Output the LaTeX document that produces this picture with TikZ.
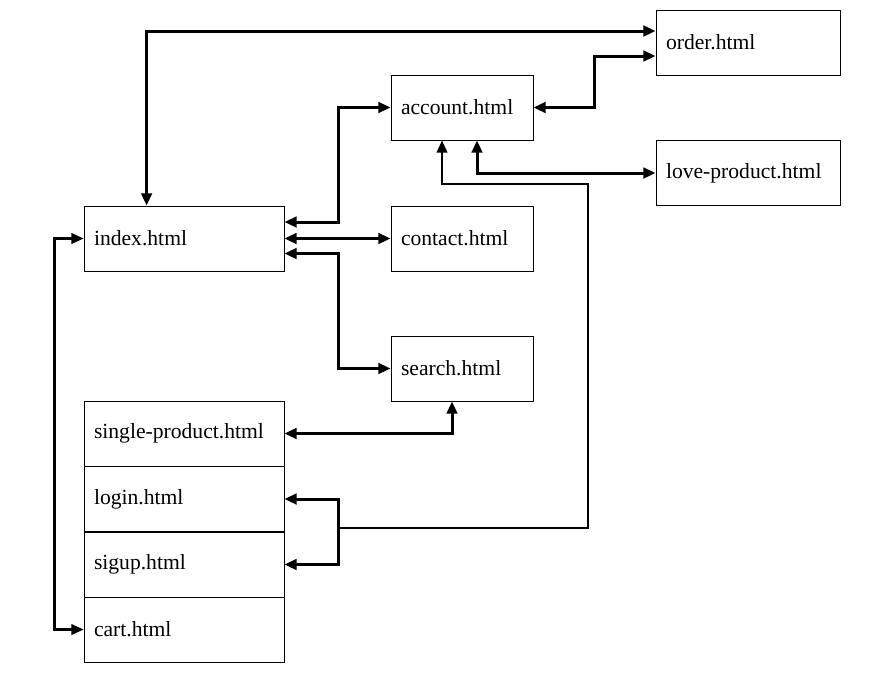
\documentclass[tikz,border=0pt]{standalone}
\usepackage{fontspec}
\setmainfont{Liberation Serif}
\usetikzlibrary{arrows.meta}

\begin{document}
\begin{tikzpicture}[
	>={Triangle[length=7pt, width=6pt]},
	htmlbox/.style={draw, rectangle, line width=0.45pt, minimum height=1.3cm, inner xsep=0.2cm, align=left, font=\fontsize{12.3}{14}\selectfont},
	widebox/.style={htmlbox, text width=3.6cm},
	midbox/.style={htmlbox, text width=3.28cm},
	smallbox/.style={htmlbox, text width=2.44cm},
	link/.style={line width=1.7pt, <->},
	thinlink/.style={line width=1.3pt}
	]
			\useasboundingbox (0,0) rectangle (17.82,-13.5);
		
			\node[midbox] (order) at (14.96,-0.85) {order.html};
			\node[smallbox] (account) at (9.24,-2.15) {account.html};
			\node[midbox] (love) at (14.96,-3.46) {love-product.html};
		
			\node[widebox] (index) at (3.68,-4.77) {index.html};
			\node[smallbox] (contact) at (9.24,-4.77) {contact.html};
			\node[smallbox] (search) at (9.24,-7.37) {search.html};
		
			\node[widebox] (single) at (3.68,-8.67) {single-product.html};
			\node[widebox] (login) at (3.68,-9.98) {login.html};
			\node[widebox] (sigup) at (3.68,-11.29) {sigup.html};
			\node[widebox] (cart) at (3.68,-12.59) {cart.html};
		
			\coordinate (split) at (6.76,-10.56);
			\coordinate (back) at (11.76,-3.68);
		
			\draw[link] ([xshift=1.26cm]index.north west) |- ([yshift=0.23cm]order.west);
			\draw[link] (account.east) -- ++(1.22,0) |- ([yshift=-0.27cm]order.west);
			\draw[link] ([xshift=0.3cm]account.south) |- (love.west);
			\draw[link] ([yshift=0.33cm]index.east) -- ++(1.08,0) |- (account.west);
			\draw[link] (index.east) -- (contact.west);
			\draw[link] ([yshift=-0.3cm]index.east) -- ++(1.08,0) |- (search.west);
			\draw[link] ([xshift=-0.2cm]search.south) |- (single.east);
			\draw[link, thinlink] (index.west) -- ++(-0.58,0) |- (cart.west);
		
			\draw[thinlink, ->] (split) -| (back) -| ([xshift=-0.4cm]account.south);
			\draw[line width=1.7pt, <-] (login.east) -| (split);
			\draw[line width=1.7pt, <-] (sigup.east) -| (split);
		\end{tikzpicture}
\end{document}
